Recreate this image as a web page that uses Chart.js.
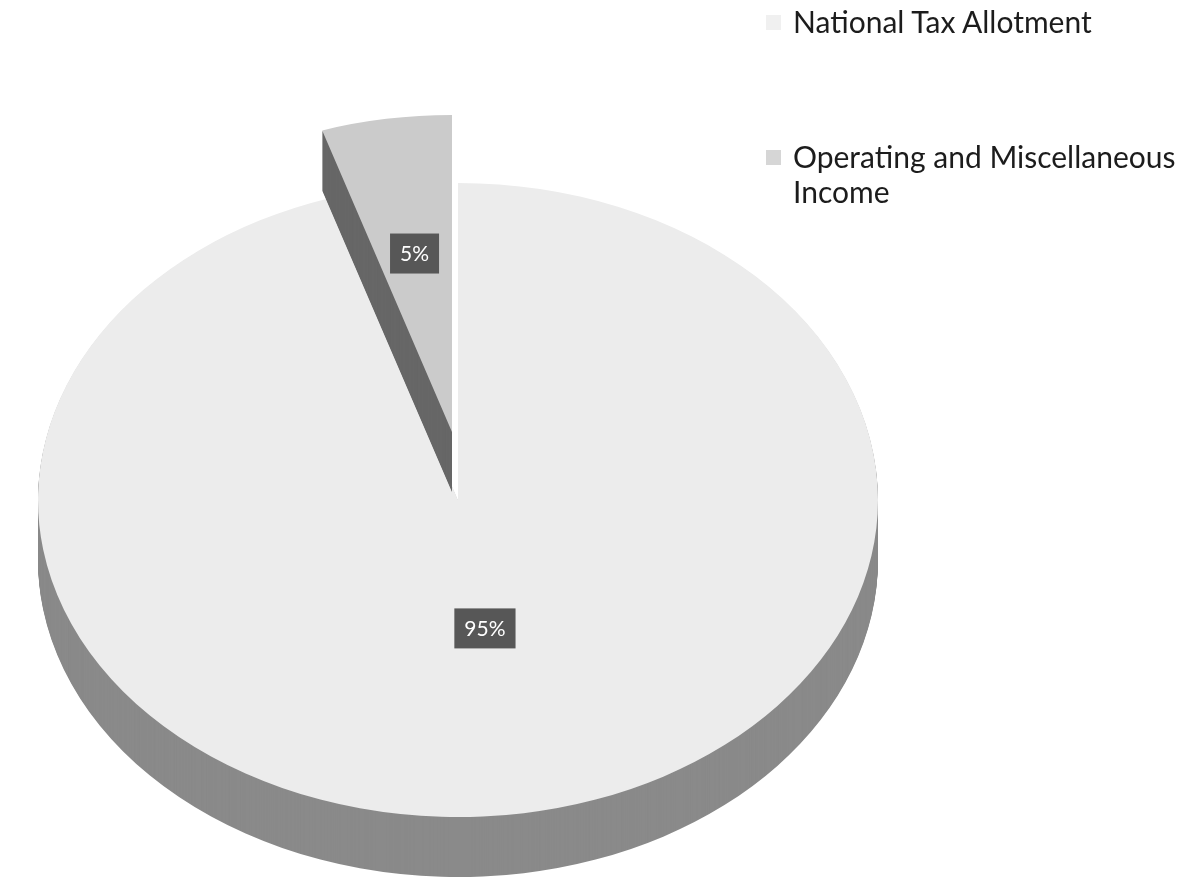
<!DOCTYPE html>
<html>
<head>
<meta charset="utf-8">
<script src="https://cdn.jsdelivr.net/npm/chart.js@4.4.1/dist/chart.umd.min.js"></script>
<style>
  html, body { margin: 0; padding: 0; background: #fff; }
  #wrap { position: relative; width: 1182px; height: 879px; overflow: hidden; }
  #chart { position: absolute; left: 0; top: 0; }
  .legend-item { position: absolute; left: 766px; font-family: Lato, 'Open Sans', sans-serif; font-size: 30px; line-height: 35px; color: #1c1c1c; }
  .legend-item .swatch { position: absolute; left: 0; top: 11px; width: 15px; height: 15px; }
  .legend-item .txt { display: block; margin-left: 27px; width: 390px; }
</style>
</head>
<body>
<div id="wrap">
  <canvas id="chart" width="1182" height="879"></canvas>
  <div id="legend"></div>
</div>
<script>
// data
const labels = ['National Tax Allotment', 'Operating and Miscellaneous Income'];
const values = [95, 5];

// colours: top faces, then the darker sides
const topColors = ['#ececec', '#cbcbcb'];
const sideColors = ['#8a8a8a', '#676767'];
const swatchColors = ['#f0f0f0', '#d6d6d6'];

// fake 3d: squash the pie, draw the side walls, pull the small slice out
const pie3d = {
    id: 'pie3d',
    beforeDatasetsDraw(chart, args, opts) {
        const ctx = chart.ctx;
        const arcs = chart.getDatasetMeta(0).data;
        const cx = arcs[0].x, cy = arcs[0].y;
        ctx.save();
        ctx.translate(cx, cy);
        ctx.scale(1, opts.tilt);
        ctx.translate(-cx, -cy);
        arcs.forEach((arc, i) => {
            const [ex, ey] = opts.explode[i];
            const saved = arc.options;
            arc.options = Object.assign({}, saved, { backgroundColor: opts.sideColors[i], borderWidth: 0 });
            for (let d = opts.depth; d >= 1; d--) {
                ctx.save();
                ctx.translate(ex, ey + d / opts.tilt);
                arc.draw(ctx);
                ctx.restore();
            }
            arc.options = saved;
            ctx.save();
            ctx.translate(ex, ey);
            arc.draw(ctx);
            ctx.restore();
        });
        ctx.restore();
        return false;
    },
    afterDraw(chart, args, opts) {
        const ctx = chart.ctx;
        const arcs = chart.getDatasetMeta(0).data;
        const data = chart.data.datasets[0].data;
        const total = data.reduce((a, b) => a + b, 0);
        ctx.save();
        ctx.font = '21px Lato, sans-serif';
        ctx.textAlign = 'center';
        ctx.textBaseline = 'middle';
        arcs.forEach((arc, i) => {
            const mid = (arc.startAngle + arc.endAngle) / 2;
            const r = arc.outerRadius * opts.labelRadius[i];
            const [ex, ey] = opts.explode[i];
            const px = arc.x + ex + Math.cos(mid) * r;
            const py = arc.y + (ey + Math.sin(mid) * r) * opts.tilt;
            const txt = Math.round(data[i] / total * 100) + '%';
            const w = ctx.measureText(txt).width + 20, h = 40;
            ctx.fillStyle = '#575757';
            ctx.fillRect(px - w / 2, py - h / 2, w, h);
            ctx.fillStyle = '#ffffff';
            ctx.fillText(txt, px, py + 1);
        });
        ctx.restore();
    }
};

new Chart(document.getElementById('chart'), {
    type: 'pie',
    data: {
        labels: labels,
        datasets: [{
            data: values,
            backgroundColor: topColors,
            borderWidth: 0,
            clip: false
        }]
    },
    options: {
        responsive: false,
        animation: false,
        radius: 420,
        layout: { padding: { left: 0, right: 266, top: 121, bottom: 0 } },
        plugins: {
            legend: { display: false },
            tooltip: { enabled: false },
            pie3d: {
                tilt: 0.755,
                depth: 60,
                explode: [[0, 0], [-6, -90]],
                labelRadius: [0.41, 0.57],
                sideColors: sideColors
            }
        }
    },
    plugins: [pie3d]
});

// legend
const legendTops = [4, 139];
const legend = document.getElementById('legend');
labels.forEach((name, i) => {
    const item = document.createElement('div');
    item.className = 'legend-item';
    item.style.top = legendTops[i] + 'px';
    item.innerHTML = `<div class="swatch" style="background:${swatchColors[i]}"></div><span class="txt">${name}</span>`;
    legend.appendChild(item);
});
</script>
</body>
</html>
